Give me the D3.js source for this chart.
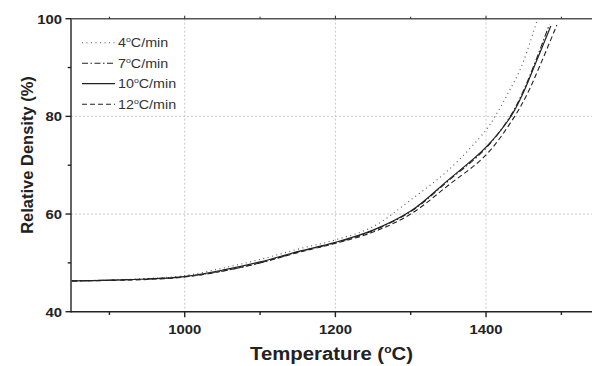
<!DOCTYPE html>
<html><head><meta charset="utf-8">
<script src="https://cdn.jsdelivr.net/npm/d3@7/dist/d3.min.js"></script>
<style>body{margin:0;background:#fff;}svg{display:block;} text{font-family:'Liberation Sans', Arimo, Arial, Helvetica, sans-serif;}</style>
</head><body><svg id="c" width="592" height="366"></svg>
<script>
const seriesNames = ["4", "7", "10", "12"];
const temps4 = [850, 900, 950, 1000, 1050, 1100, 1150, 1200, 1250, 1300, 1350, 1400, 1412, 1429, 1447, 1468];
const dens4  = [46.3, 46.5, 46.8, 47.4, 48.9, 50.7, 52.8, 54.7, 57.4, 62.9, 69.0, 77.2, 80, 84.7, 90.2, 99.8];
const temps7 = [850, 900, 950, 1000, 1050, 1100, 1150, 1200, 1250, 1300, 1350, 1400, 1432, 1448, 1463, 1484];
const dens7  = [46.3, 46.45, 46.7, 47.2, 48.3, 50.0, 52.2, 54.1, 56.6, 60.5, 66.8, 73.5, 80, 84.7, 90.2, 98.8];
const temps10 = [850, 900, 950, 1000, 1050, 1100, 1150, 1200, 1250, 1300, 1350, 1400, 1433, 1449, 1464, 1486];
const dens10  = [46.3, 46.45, 46.7, 47.2, 48.5, 50.2, 52.3, 54.2, 56.7, 60.6, 67.0, 73.7, 80, 84.7, 90.2, 98.5];
const temps12 = [850, 900, 950, 1000, 1050, 1100, 1150, 1200, 1250, 1300, 1350, 1400, 1438, 1455, 1471, 1494];
const dens12  = [46.3, 46.4, 46.6, 47.1, 48.3, 50.0, 52.1, 54.0, 56.3, 60.0, 65.9, 72.1, 80, 84.7, 90.2, 98.7];
const xMajor = [1000, 1200, 1400];
const xMinor = [900, 1100, 1300, 1500];
const yMajor = [40, 60, 80, 100];
const yMinor = [50, 70, 90];

const FONT = "'Liberation Sans', Arimo, Arial, Helvetica, sans-serif";
const SX = 1.1; // horizontal stretch of text seen in the reference
const svg = d3.select("#c");
const L = 71, R = 593, T = 18.7, B = 311.7;
const x = d3.scaleLinear().domain([849, 1542]).range([L, R]);
const y = d3.scaleLinear().domain([40, 100]).range([B, T]);

// grid
const grid = svg.append("g").attr("stroke", "#c8c8c8").attr("stroke-width", 1).attr("stroke-dasharray", "2,2");
xMajor.forEach(v => grid.append("line").attr("x1", x(v)).attr("x2", x(v)).attr("y1", T).attr("y2", B));
[60, 80].forEach(v => grid.append("line").attr("x1", L).attr("x2", R).attr("y1", y(v)).attr("y2", y(v)));

// curves
svg.append("clipPath").attr("id", "clip").append("rect").attr("x", L).attr("y", T).attr("width", R - L).attr("height", B - T);
const line = d3.line().x(d => x(d[0])).y(d => y(d[1])).curve(d3.curveCatmullRom.alpha(0.5));
const series = [
  {name: seriesNames[0], t: temps4, d: dens4, dash: "1,3.5", color: "#555", w: 1.1},
  {name: seriesNames[1], t: temps7, d: dens7, dash: "6,2.5,1.5,2.5", color: "#222", w: 1.1},
  {name: seriesNames[2], t: temps10, d: dens10, dash: null, color: "#222", w: 1.2},
  {name: seriesNames[3], t: temps12, d: dens12, dash: "5,3", color: "#222", w: 1.1}
];
const cg = svg.append("g").attr("clip-path", "url(#clip)");
series.forEach(s => {
  cg.append("path").attr("d", line(s.t.map((t, i) => [t, s.d[i]])))
    .attr("fill", "none").attr("stroke", s.color).attr("stroke-width", s.w)
    .attr("stroke-dasharray", s.dash);
});

// axes
const ax = svg.append("g").attr("stroke", "#222").attr("stroke-width", 1.4);
ax.append("line").attr("x1", L).attr("x2", L).attr("y1", T - 0.7).attr("y2", B + 0.7);
ax.append("line").attr("x1", L).attr("x2", R).attr("y1", B).attr("y2", B);
ax.append("line").attr("x1", L).attr("x2", R).attr("y1", T).attr("y2", T).attr("stroke", "#555");
xMajor.forEach(v => { ax.append("line").attr("x1", x(v)).attr("x2", x(v)).attr("y1", B).attr("y2", B + 5.5);
  ax.append("line").attr("x1", x(v)).attr("x2", x(v)).attr("y1", T).attr("y2", T - 3).attr("stroke-width", 1); });
xMinor.forEach(v => { ax.append("line").attr("x1", x(v)).attr("x2", x(v)).attr("y1", B).attr("y2", B + 3.3);
  ax.append("line").attr("x1", x(v)).attr("x2", x(v)).attr("y1", T).attr("y2", T - 2).attr("stroke-width", 1); });
yMajor.forEach(v => ax.append("line").attr("x1", L - 5.5).attr("x2", L).attr("y1", y(v)).attr("y2", y(v)));
yMinor.forEach(v => ax.append("line").attr("x1", L - 3.3).attr("x2", L).attr("y1", y(v)).attr("y2", y(v)));

// tick labels
const tl = svg.append("g").attr("font-family", FONT).attr("font-size", 13.5).attr("font-weight", "bold").attr("fill", "#222");
xMajor.forEach(v => tl.append("text").attr("transform", `translate(${x(v)},334) scale(${SX},1)`).attr("text-anchor", "middle").text(v));
yMajor.forEach(v => tl.append("text").attr("transform", `translate(62,${y(v) + 4.8}) scale(${SX},1)`).attr("text-anchor", "end").text(v));

// axis titles
const xt = svg.append("text").attr("font-family", FONT).attr("transform", `translate(331.5,360) scale(${SX},1)`).attr("text-anchor", "middle")
  .attr("font-size", 18.5).attr("font-weight", "bold").attr("fill", "#222");
xt.append("tspan").text("Temperature (");
xt.append("tspan").attr("font-size", 11).attr("dy", -7).text("o");
xt.append("tspan").attr("dy", 7).text("C)");
svg.append("text").attr("font-family", FONT).attr("transform", "translate(33,155) rotate(-90)").attr("text-anchor", "middle")
  .attr("font-size", 16.5).attr("font-weight", "bold").attr("fill", "#222").text("Relative Density (%)");

// legend
const lg = svg.append("g");
const rows = [42.7, 63.3, 83.6, 104.3];
series.forEach((s, i) => {
  lg.append("line").attr("x1", 82).attr("x2", 115).attr("y1", rows[i]).attr("y2", rows[i])
    .attr("stroke", s.color).attr("stroke-width", s.w).attr("stroke-dasharray", s.dash);
  const t = lg.append("text").attr("font-family", FONT).attr("transform", `translate(118,${rows[i] + 4.5}) scale(${SX},1)`)
    .attr("font-size", 13).attr("fill", "#333");
  t.append("tspan").text(s.name);
  t.append("tspan").attr("font-size", 8).attr("dy", -5).text("o");
  t.append("tspan").attr("dy", 5).text("C/min");
});
</script></body></html>
